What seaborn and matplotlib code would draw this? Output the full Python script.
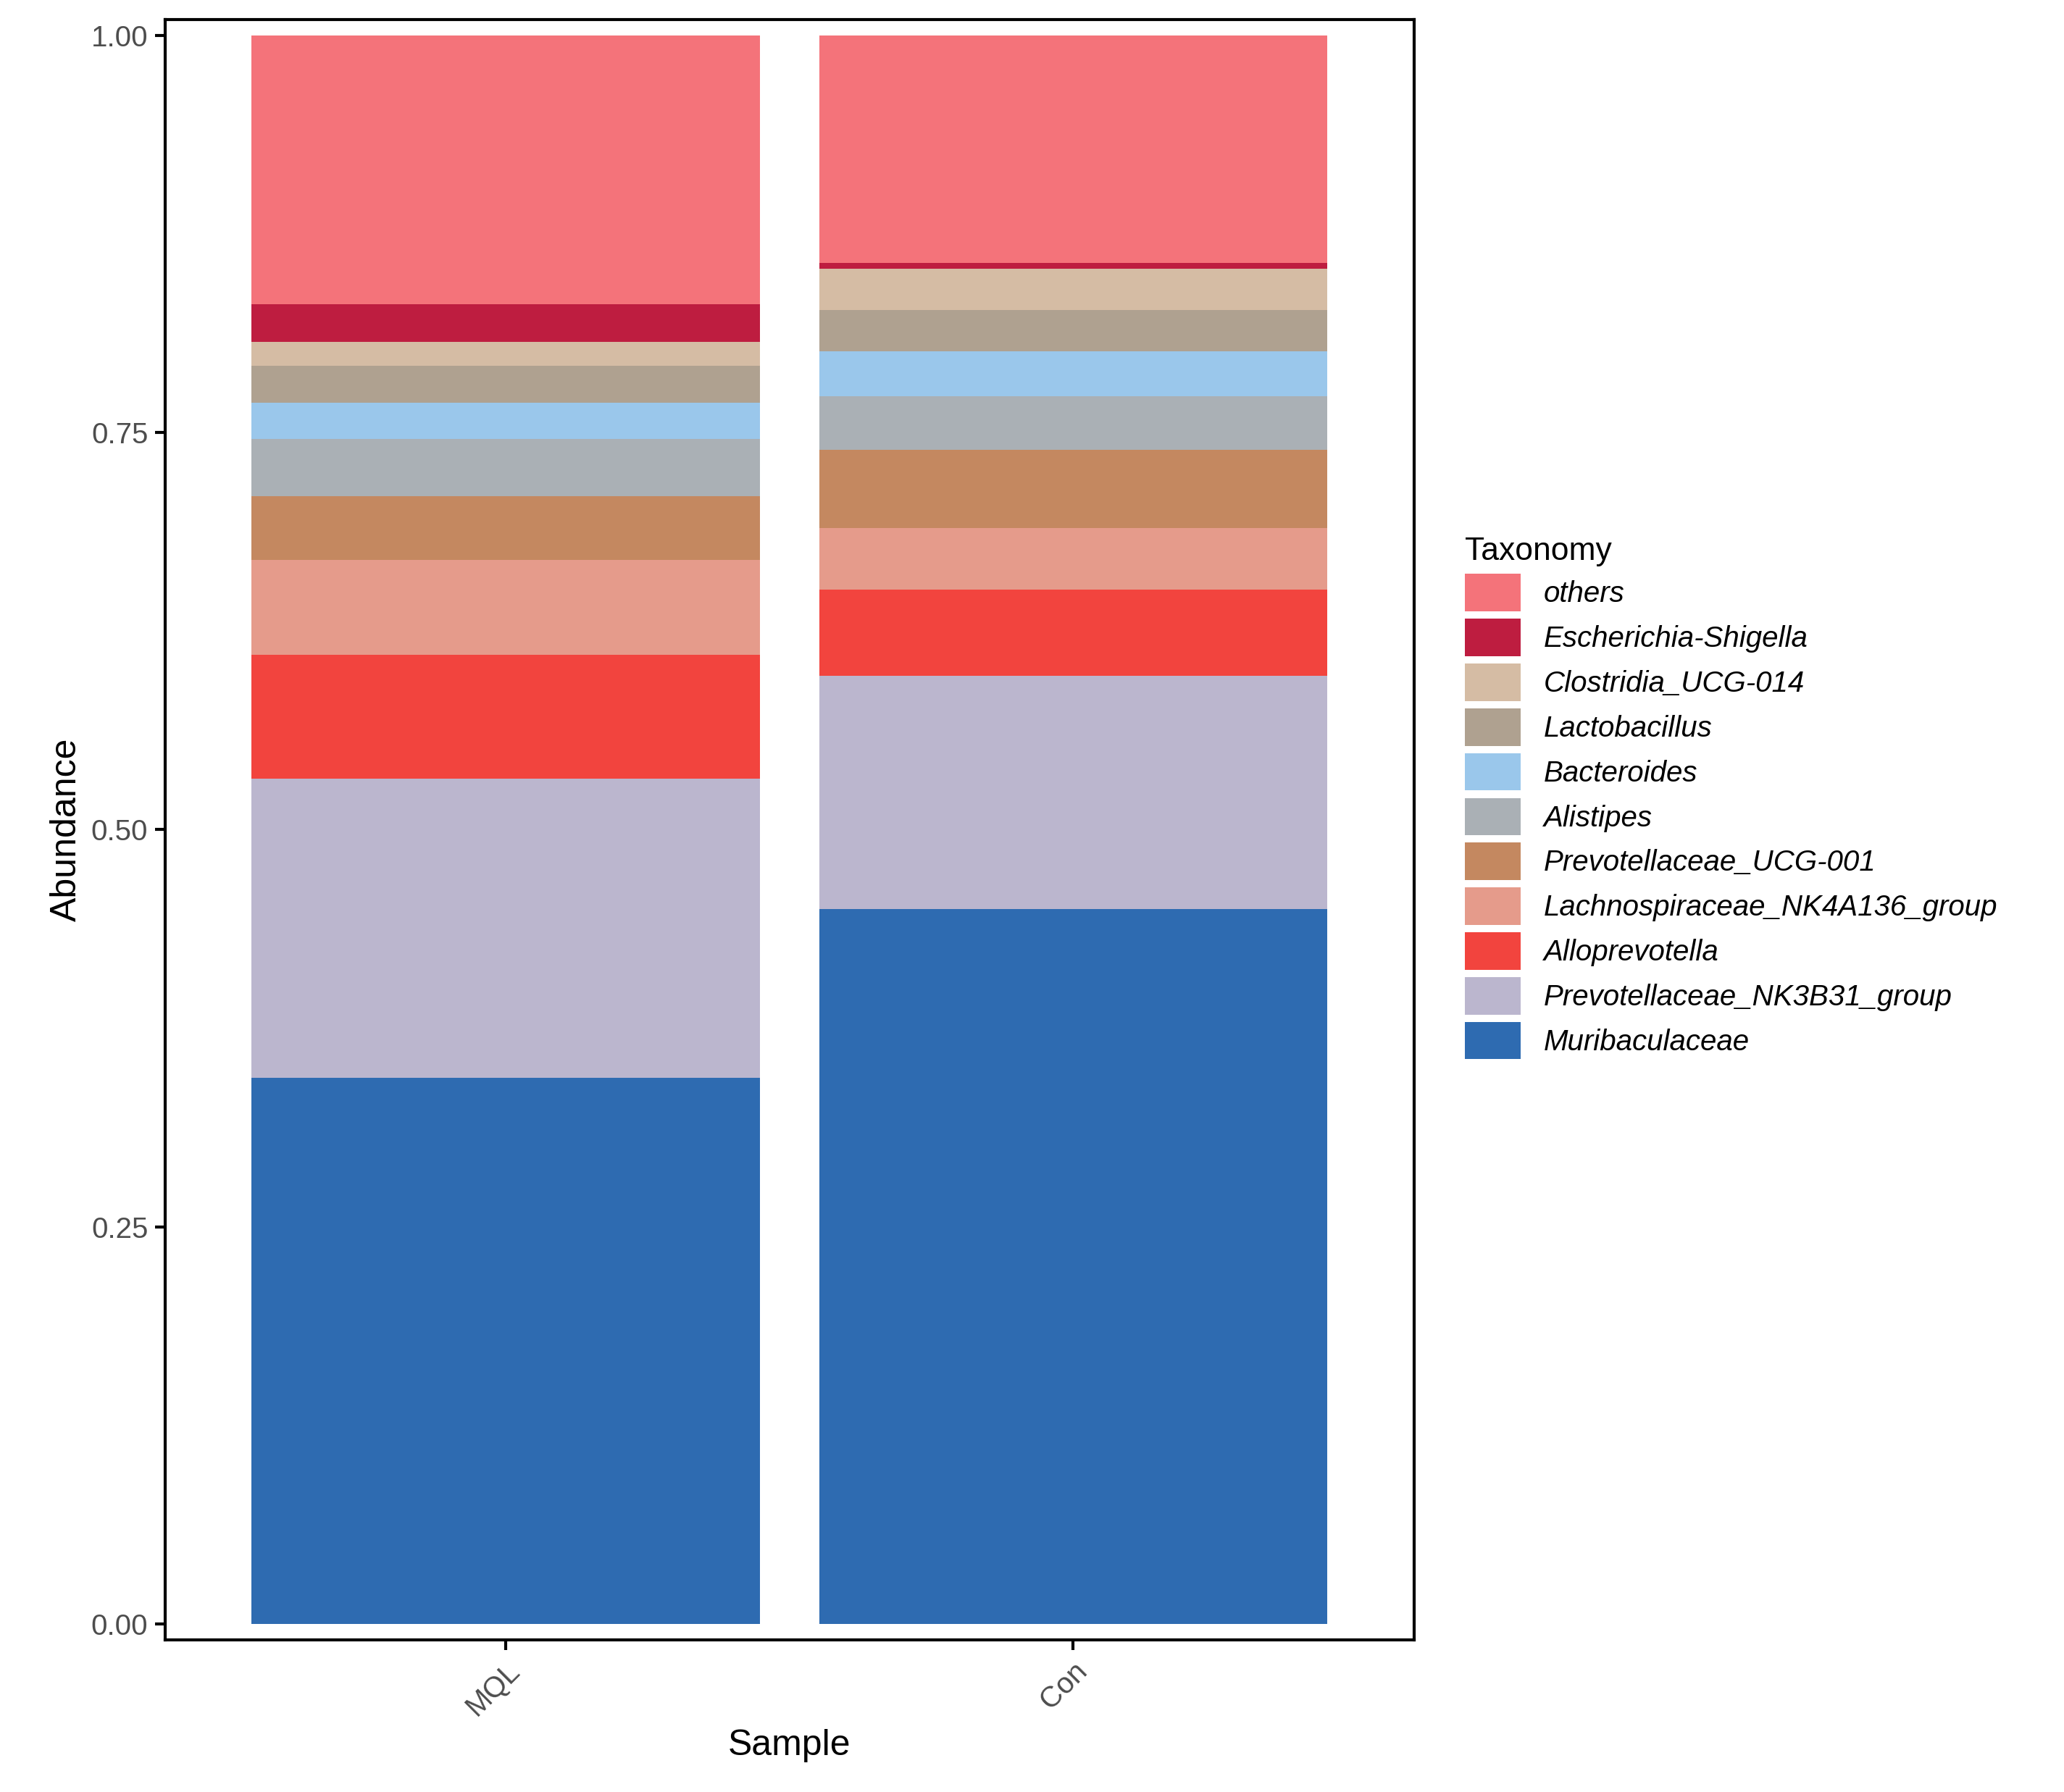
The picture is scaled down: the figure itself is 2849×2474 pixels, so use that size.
import matplotlib
matplotlib.use("Agg")
import matplotlib.pyplot as plt
import seaborn as sns
import pandas as pd
import numpy as np
from matplotlib.patches import Patch

samples = ["MQL", "Con"]
taxa = ["Muribaculaceae", "Prevotellaceae_NK3B31_group", "Alloprevotella",
        "Lachnospiraceae_NK4A136_group", "Prevotellaceae_UCG-001", "Alistipes",
        "Bacteroides", "Lactobacillus", "Clostridia_UCG-014", "Escherichia-Shigella", "others"]
mql = [0.344, 0.188, 0.078, 0.060, 0.040, 0.036, 0.023, 0.023, 0.015, 0.024, 0.169]
con = [0.450, 0.147, 0.054, 0.039, 0.049, 0.034, 0.028, 0.026, 0.026, 0.004, 0.143]
colors = ["#2E6BB1", "#BBB6CE", "#F2443E", "#E59B8B", "#C48860", "#AAB0B5",
          "#9AC7EB", "#AFA190", "#D5BCA4", "#BE1D40", "#F4737A"]

plt.rcParams["font.family"] = "Liberation Sans"
fig = plt.figure(figsize=(14.245, 12.37), dpi=200)
ax = fig.add_axes([0.08, 0.085, 0.605, 0.904])

cum_m = np.cumsum(mql); cum_c = np.cumsum(con)
cum_m = cum_m / cum_m[-1]; cum_c = cum_c / cum_c[-1]
for i in range(len(taxa) - 1, -1, -1):
    df = pd.DataFrame({"Sample": samples, "top": [cum_m[i], cum_c[i]]})
    sns.barplot(data=df, x="Sample", y="top", color=colors[i], width=0.895,
                saturation=1, ax=ax, linewidth=0)

ax.set_xlim(-0.6, 1.6)
ax.set_ylim(-0.01, 1.01)
ax.set_yticks([0, 0.25, 0.5, 0.75, 1.0])
ax.set_yticklabels(["0.00", "0.25", "0.50", "0.75", "1.00"])
ax.tick_params(axis="y", labelsize=14.5, labelcolor="#4D4D4D", width=1.5, length=5)
ax.tick_params(axis="x", labelsize=14.5, labelcolor="#4D4D4D", width=1.5, length=5)
plt.setp(ax.get_xticklabels(), rotation=45, ha="right", rotation_mode="anchor")
ax.set_xlabel("Sample", fontsize=18)
ax.set_ylabel("Abundance", fontsize=18)
for s in ax.spines.values():
    s.set_linewidth(1.5)

handles = [Patch(facecolor=colors[i], label=taxa[i]) for i in range(len(taxa) - 1, -1, -1)]
leg = fig.legend(handles=handles, loc="upper left", bbox_to_anchor=(0.697, 0.715),
                 title="Taxonomy", frameon=False, fontsize=14.5, title_fontsize=16,
                 handlelength=1.9, handleheight=1.6, labelspacing=0.25, alignment="left")
for t in leg.get_texts():
    t.set_fontstyle("italic")

fig.savefig("out.png", dpi=200, facecolor="white")
